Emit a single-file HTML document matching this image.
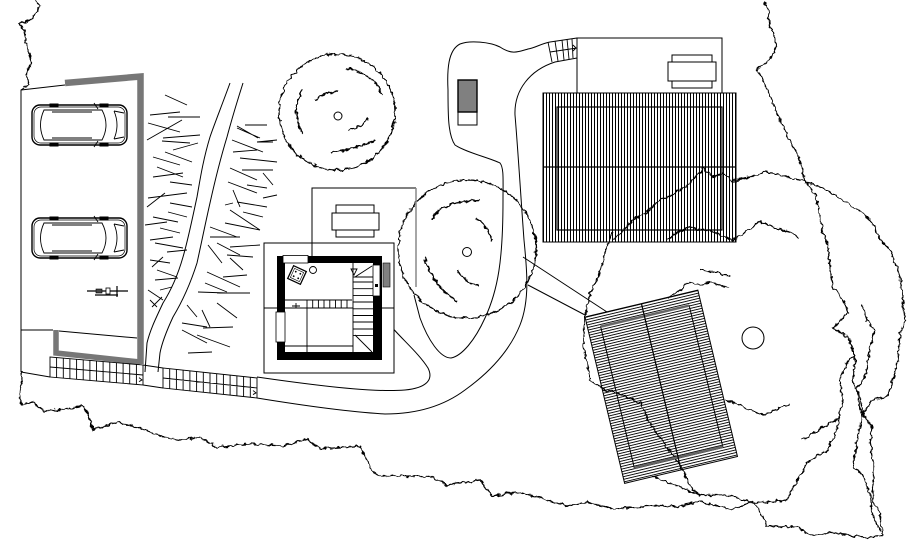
<!DOCTYPE html>
<html><head><meta charset="utf-8"><style>html,body{margin:0;padding:0;background:#fff}svg{display:block}</style></head>
<body>
<svg width="920" height="545" viewBox="0 0 920 545" xmlns="http://www.w3.org/2000/svg">
<defs>
<filter id="j" filterUnits="userSpaceOnUse" x="0" y="0" width="920" height="545">
<feTurbulence type="fractalNoise" baseFrequency="0.2" numOctaves="2" seed="5" result="n"/>
<feDisplacementMap in="SourceGraphic" in2="n" scale="5" xChannelSelector="R" yChannelSelector="G"/>
</filter>
<pattern id="vh" x="0" y="0" width="3" height="10" patternUnits="userSpaceOnUse"><rect x="0" width="1" height="10" fill="#000"/></pattern>
<pattern id="hh" width="10" height="2.6" patternUnits="userSpaceOnUse"><rect width="10" height="0.9" fill="#000"/></pattern>
<g id="car" fill="none" stroke="#000">
<rect x="0" y="2" width="95" height="40" rx="8" fill="#fff" stroke-width="1.4"/>
<rect x="2" y="4" width="91" height="36" rx="7" stroke-width="0.7"/>
<path d="M12,7 L70,7 Q78,22 70,37 L12,37 Q5,22 12,7 Z" stroke-width="0.9"/>
<path d="M82,8 Q88,22 82,36 M82,8 L92,10 M82,36 L92,34 M20,9 L60,9 M20,35 L60,35 M62,0 L66,6 M62,44 L66,38" stroke-width="0.9"/>
<rect x="18" y="1" width="8" height="3" fill="#000"/><rect x="68" y="1" width="8" height="3" fill="#000"/>
<rect x="18" y="40" width="8" height="3" fill="#000"/><rect x="68" y="40" width="8" height="3" fill="#000"/>
</g>
</defs>
<rect width="920" height="545" fill="#fff"/>

<!-- jagged contours -->
<g fill="none" stroke="#000" stroke-width="1.3" filter="url(#j)">
<path d="M35,0 L40,6 L37,12 L30,20 L19,24 L24,30 L26,42 L29,52 L31,63 L27,74 L29,84 L24,88"/>
<path d="M21,372 L22,385 L20,395 L21,405 L33,402 L43,411 L67,409 L82,406 L87,412 L93,430 L117,422 L140,428 L160,436 L180,440 L200,437 L217,447 L250,444 L283,446 L307,439 L320,449 L360,446 L370,466 L377,476 L410,476 L430,477 L447,485 L480,480 L492,496 L520,492 L567,506 L587,502 L613,509 L647,506 L680,506 L700,502 L730,509 L753,502 L763,516 L767,526 L797,527 L813,536 L830,532 L853,536 L867,537 L883,536"/>
<path d="M763,2 L768,10 L770,27 L777,43 L772,57 L757,70 L763,80 L772,100 L780,120 L788,137 L797,153 L802,170 L805,182 L815,193 L818,207 L822,227 L828,247 L830,267 L833,287 L843,300 L848,312 L833,328 L848,337 L855,357 L853,383 L860,397 L863,413 L872,427 L870,440 L873,460 L873,477 L873,503 L880,513 L883,536"/>
<path d="M733,180 L750,177 L765,172 L785,176 L803,181 L827,190 L843,200 L863,213 L875,227 L880,240 L890,250 L900,277 L903,300 L905,320 L900,333 L898,360 L893,380 L887,397 L873,400 L863,413 L857,440 L853,467 L863,475 L870,493 L873,517 L880,530"/>
<path d="M653,477 L680,487 L700,495 L727,495 L753,503 L787,500 L807,463 L827,450 L837,430 L842,400 L840,380 L848,360 L855,357"/>
<path d="M613,232 L607,247 L603,260 L600,273 L593,287 L588,300 L585,317 L583,343 L590,380 L605,390 L618,393 L640,403 L648,420 L660,437 L673,455 L683,470 L690,487 L700,495"/>
<path d="M613,240 L622,232 L633,220 L645,213 L660,200 L672,195 L680,190 L690,183 L703,168 L708,172 L713,177 L723,173 L733,182 L750,177"/>
<path d="M667,240 L678,232 L690,227 L700,230 L710,230 L722,236 L733,240 L745,233 L760,221 L775,228 L790,232 L800,238"/>
<path d="M668,298 L680,290 L687,282 L700,285 L710,282 L730,288"/>
<path d="M700,270 L715,272 L730,276"/>
<path d="M725,400 L740,405 L755,412 L765,415 L775,410 L790,404"/>
<path d="M802,440 L815,432 L823,427 L840,417"/>
<path d="M862,305 L867,320 L875,330 L870,347 L867,367 L863,380 L857,390 L860,410 L872,427"/>
<circle cx="337" cy="112" r="58"/>
<circle cx="467" cy="249" r="69"/>
<path d="M345,68 Q372,72 383,95 M315,100 Q325,92 338,92 M303,90 Q290,108 302,133 M348,130 Q362,128 368,118 M330,152 Q355,150 375,140" stroke-width="1.5"/>
<path d="M432,220 Q438,202 480,200 M475,218 Q488,225 492,242 M425,258 Q432,285 457,302 M457,270 Q465,283 478,285" stroke-width="1.5"/>
</g>

<!-- small tree centres -->
<g fill="none" stroke="#000" stroke-width="1">
<circle cx="338" cy="116" r="4"/>
<circle cx="467" cy="252" r="4.5"/>
<circle cx="753" cy="338" r="11"/>
</g>

<!-- parking -->
<g fill="none" stroke="#000" stroke-width="1">
<path d="M24,88 L21,90 L21,372 M21,90 L65,85 M21,330 L53,330 M59,331 L137,338"/>
</g>
<polyline points="65,83 140.5,76.5 140.5,364" fill="none" stroke="#777" stroke-width="6.5"/>
<polyline points="56,330 56,353 140,362" fill="none" stroke="#777" stroke-width="5.5"/>
<use href="#car" x="32" y="103"/>
<use href="#car" x="32" y="216"/>
<g stroke="#000" fill="none">
<path d="M87,291 L128,291 M95,295 L118,295 M117,286 L117,297" stroke-width="1.2"/>
<rect x="96" y="289" width="6" height="4" fill="#444" stroke-width="0.6"/>
<rect x="106" y="288" width="4" height="6" fill="#fff" stroke-width="0.8"/>
</g>

<!-- vegetation strokes -->
<path fill="none" stroke="#000" stroke-width="0.9" d="M165,95 L187,105 M150,115 L180,112 M168,117 L200,117 M148,123 L180,132 M147,140 L182,120 M163,138 L200,135 M162,141 L190,143 M173,150 L198,143 M153,157 L180,165 M165,152 L192,162 M157,167 L183,177 M153,177 L183,173 M170,182 L192,185 M148,198 L187,193 M147,207 L165,193 M170,203 L192,207 M153,217 L178,222 M168,212 L187,217 M145,225 L167,222 M160,228 L180,233 M150,240 L173,237 M155,243 L183,248 M167,252 L187,250 M150,260 L170,263 M152,267 L163,257 M157,270 L177,277 M155,280 L178,278 M148,290 L163,300 M150,300 L157,307 M152,307 L162,297 M160,290 L172,287 M245,125 L267,125 M237,128 L260,138 M257,142 L273,142 M232,140 L263,152 M233,152 L257,150 M240,158 L277,162 M230,168 L257,180 M242,170 L273,170 M263,173 L273,185 M228,182 L257,193 M247,185 L267,188 M233,190 L240,207 M263,198 L277,195 M225,205 L233,203 M237,202 L267,207 M243,212 L263,217 M230,210 L260,230 M210,227 L237,237 M225,223 L260,230 M210,237 L240,237 M208,245 L222,263 M217,243 L240,255 M230,247 L260,245 M227,255 L253,257 M230,258 L243,270 M207,272 L240,287 M223,277 L247,275 M205,283 L227,292 M198,292 L227,293 M217,293 L250,293 M217,303 L237,318 M187,305 L197,317 M202,310 L210,327 M182,323 L207,327 M182,330 L207,343 M203,328 L233,327 M197,335 L230,347 M188,353 L212,352 M237,126 L258,138 M257,142 L277,140"/>

<!-- footpath -->
<g fill="none" stroke="#000" stroke-width="1">
<path d="M230,83 C222,105 214,125 210,137 C203,160 200,180 197,197 C192,220 188,240 183,257 C177,278 170,292 163,303 C156,318 150,330 147,343 L145,372"/>
<path d="M243,83 C236,105 231,122 227,137 C220,160 214,185 210,203 C205,225 201,245 197,263 C190,285 182,302 173,317 C167,330 162,342 160,353 L158,372"/>
</g>

<!-- road grids -->
<g fill="#fff" stroke="#000" stroke-width="0.9" transform="matrix(1,0.086,0,1,50,357)">
<rect x="0" y="0" width="93" height="20"/>
<path d="M0,10 H93 M6.6,0V20 M13.3,0V20 M19.9,0V20 M26.6,0V20 M33.2,0V20 M39.9,0V20 M46.5,0V20 M53.1,0V20 M59.8,0V20 M66.4,0V20 M73.1,0V20 M79.7,0V20 M86.4,0V20" fill="none"/>
<path d="M89,13 L92,15 L89,17" fill="none"/>
</g>
<g fill="#fff" stroke="#000" stroke-width="0.9" transform="matrix(1,0.106,0,1,163,368)">
<rect x="0" y="0" width="94" height="20"/>
<path d="M0,10 H94 M6.7,0V20 M13.4,0V20 M20.1,0V20 M26.9,0V20 M33.6,0V20 M40.3,0V20 M47,0V20 M53.7,0V20 M60.4,0V20 M67.1,0V20 M73.9,0V20 M80.6,0V20 M87.3,0V20" fill="none"/>
<path d="M90,13 L93,15 L90,17" fill="none"/>
</g>

<!-- road / drive -->
<g fill="none" stroke="#000" stroke-width="1">
<path d="M21,372 L50,377 M143,385 L163,388 M257,398 C300,405 350,412 385,414 C420,414 445,405 465,390 C490,372 510,350 520,325 C530,300 527,270 524,240 C521,200 518,150 515,115 C514,90 530,70 555,62 L577,58"/>
<path d="M143,365 L163,368 M382,316 C400,338 418,352 428,368 C434,380 426,388 405,390 C380,392 340,389 257,377"/>
<path d="M577,38 L550,42 C540,44 535,48 528,49 C518,52 512,55 500,47 C490,42 470,40 460,44 C448,50 447,70 448,90 C448,115 448,135 455,145 C465,152 490,158 500,163 C504,168 503,180 503,200 C503,260 498,290 485,318 C475,340 462,356 451,358 C440,358 428,340 420,318 L414,295"/>
<path d="M523,257 L607,312 M528,285 L585,315"/>
<path d="M548,42 L552,62 M555,41 L558,61 M562,40 L564,60 M567,39 L569,59 M572,39 L573,58 M550,52 L577,48 M573,45 L576,48 L573,51" stroke-width="0.9"/>
</g>

<!-- gray parked car -->
<rect x="458" y="80" width="19" height="45" fill="#fff" stroke="#000" stroke-width="1"/>
<rect x="458" y="80" width="19" height="32" fill="#808080" stroke="#000" stroke-width="1.4"/>

<!-- top garage rect -->
<g fill="none" stroke="#000" stroke-width="1">
<rect x="577" y="38" width="145" height="55"/>
<rect x="672" y="55" width="40" height="33" fill="#fff"/>
<rect x="668" y="62" width="48" height="19" fill="#fff"/>
</g>

<!-- hatched building -->
<rect x="543" y="93" width="193" height="149" fill="url(#vh)" stroke="#000" stroke-width="1"/>
<g fill="none" stroke="#000" stroke-width="1.2">
<rect x="557" y="107" width="165" height="123"/>
<path d="M543,167 H736"/>
</g>

<!-- pool -->
<g transform="translate(585,317) rotate(-13.4)">
<rect width="116" height="171" fill="url(#hh)" stroke="#000" stroke-width="1"/>
<rect x="13" y="13" width="91" height="145" fill="none" stroke="#000" stroke-width="1"/>
<path d="M13,13 H104 M13,158 H104" stroke="#666" stroke-width="2.5"/>
<path d="M58,0 V171" stroke="#000" stroke-width="1.2"/>
</g>

<!-- house -->
<g fill="none" stroke="#000" stroke-width="1">
<rect x="264" y="243" width="130" height="130" fill="#fff"/>
<path d="M312,257 V188 H416"/>
<rect x="336" y="205" width="38" height="32" fill="#fff"/>
<rect x="332" y="213" width="47" height="17" fill="#fff"/>
</g>
<path d="M416,188 V287" stroke="#888" stroke-width="1.5"/>
<path fill="#000" fill-rule="evenodd" d="M277,256 H382 V360 H277 Z M285,263 H373 V352 H285 Z"/>
<g fill="none" stroke="#000" stroke-width="0.9">
<path d="M264,308 H285 M373,308 H394 M285,308 H353"/>
<path d="M353,263 V352"/>
<path d="M353,282 H373 M353,288.7 H373 M353,295.4 H373 M353,302 H373 M353,308.8 H373 M353,315.5 H373 M353,322 H373 M353,329 H373 M353,335.6 H373"/>
<path d="M355,277 L372,266 M355,335 L372,352 M353,277 H373 M351,269 L357,269 L354,275 Z"/>
<path d="M285,300 H352 M307,300 V308 M312.7,300 V308 M318.4,300 V308 M324,300 V308 M329.8,300 V308 M335.5,300 V308 M341.2,300 V308 M347,300 V308"/>
<path d="M307,308 V352 M285,346 H353 M292,306 H300 M296,303 V308"/>
<circle cx="313" cy="270" r="3.5"/>
</g>
<rect x="283" y="255.5" width="25" height="7.5" fill="#fff" stroke="#000" stroke-width="0.8"/>
<rect x="276" y="312" width="9" height="30" fill="#fff" stroke="#000" stroke-width="0.8"/>
<rect x="373" y="265" width="7" height="31" fill="#fff" stroke="#000" stroke-width="0.8"/>
<rect x="375" y="284" width="3" height="3" fill="#000"/>
<rect x="383" y="263" width="7" height="24" fill="#808080" stroke="#000" stroke-width="0.6"/>
<g transform="translate(297,275) rotate(25)">
<rect x="-7" y="-7" width="14" height="14" fill="#fff" stroke="#000" stroke-width="1.3"/>
<rect x="-5" y="-5" width="10" height="10" fill="none" stroke="#000" stroke-width="0.6"/>
<circle cx="-2.5" cy="-2.5" r="0.9"/><circle cx="2.5" cy="-2.5" r="0.9"/><circle cx="-2.5" cy="2.5" r="0.9"/><circle cx="2.5" cy="2.5" r="0.9"/>
</g>
</svg>
</body></html>
